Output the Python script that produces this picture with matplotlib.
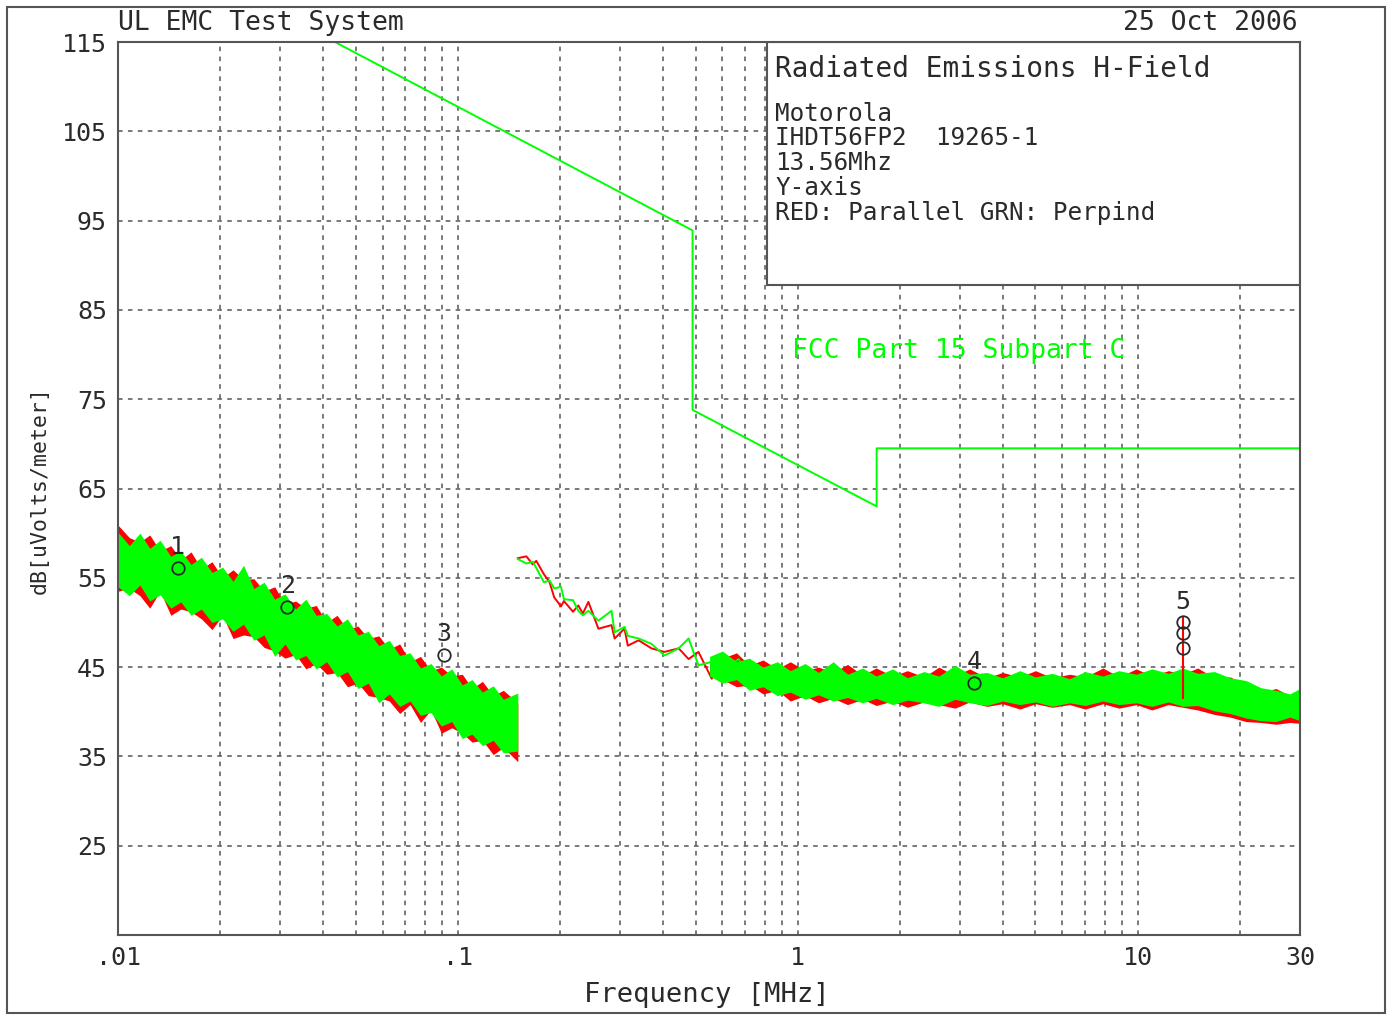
import numpy as np
import matplotlib.pyplot as plt
from matplotlib.patches import Rectangle

# FCC Part 15 Subpart C limit line (clipped at the top of the plot)
limit_f = [0.01, 0.49, 0.49, 1.705, 1.705, 30.0]
limit_db = [127.8, 93.9, 73.8, 63.0, 69.5, 69.5]

# band 1 (0.01 - 0.15 MHz), envelopes of the dense traces
seg1_f = [0.0100, 0.0108, 0.0116, 0.0124, 0.0133, 0.0143, 0.0153, 0.0164, 0.0176, 0.0189,
          0.0203, 0.0218, 0.0234, 0.0251, 0.0269, 0.0289, 0.0310, 0.0333, 0.0357, 0.0383,
          0.0411, 0.0441, 0.0473, 0.0508, 0.0545, 0.0585, 0.0628, 0.0674, 0.0723, 0.0776,
          0.0833, 0.0894, 0.0959, 0.103, 0.110, 0.118, 0.127, 0.136, 0.150]
seg1_grn_hi = [60.1, 58.6, 60.0, 58.3, 59.2, 57.4, 58.0, 56.5, 57.3, 55.6,
               56.2, 54.6, 56.4, 53.8, 54.5, 52.6, 53.2, 51.5, 52.6, 50.8,
               51.0, 49.6, 50.4, 48.6, 49.0, 47.4, 48.0, 46.3, 46.6, 44.9,
               45.4, 44.0, 44.8, 43.0, 43.6, 42.2, 42.9, 41.4, 42.1]
seg1_grn_lo = [54.0, 53.0, 54.2, 52.4, 53.1, 51.6, 52.3, 50.8, 51.5, 50.0,
               50.4, 49.0, 49.8, 48.0, 48.6, 46.2, 47.6, 45.8, 46.3, 44.8,
               45.6, 43.9, 44.5, 42.6, 43.2, 41.0, 42.0, 40.6, 41.2, 39.6,
               39.9, 38.4, 38.9, 37.0, 37.5, 36.2, 36.8, 35.4, 35.6]
seg1_red_hi = [60.9, 59.5, 59.0, 59.8, 58.0, 58.6, 57.0, 57.9, 56.0, 56.8,
               55.0, 55.9, 54.8, 54.9, 53.5, 54.0, 52.0, 52.4, 51.6, 51.9,
               50.0, 50.8, 49.2, 49.6, 48.2, 48.5, 47.0, 47.6, 45.6, 46.2,
               44.6, 45.0, 44.0, 44.2, 42.6, 43.4, 41.8, 42.4, 41.0]
seg1_red_lo = [53.5, 53.8, 53.0, 51.6, 53.5, 50.8, 51.5, 51.2, 50.4, 49.2,
               50.8, 48.2, 48.6, 48.4, 47.2, 46.8, 46.0, 46.4, 44.8, 45.4,
               44.2, 44.4, 42.8, 43.2, 41.8, 41.6, 41.2, 39.8, 40.8, 38.8,
               40.2, 37.6, 38.2, 37.6, 36.6, 36.8, 35.2, 36.0, 34.4]

# band 2 start (0.15 - 1.1 MHz), individual traces
seg2_f = [0.150, 0.159, 0.166, 0.170, 0.179, 0.186, 0.192, 0.201, 0.205, 0.218,
          0.226, 0.233, 0.242, 0.259, 0.283, 0.289, 0.309, 0.316, 0.340, 0.371,
          0.405, 0.446, 0.477, 0.510, 0.558, 0.609, 0.670, 0.698, 0.767, 0.821,
          0.879, 0.980, 1.100]
seg2_grn = [57.1, 56.6, 56.8, 56.1, 54.5, 54.7, 53.8, 54.0, 52.6, 52.5,
            51.3, 50.8, 51.3, 50.2, 51.3, 48.9, 49.5, 48.5, 48.2, 47.6,
            46.3, 47.1, 48.2, 45.2, 45.6, 44.8, 45.9, 44.4, 45.2, 43.5,
            44.8, 43.7, 43.3]
seg2_red = [57.2, 57.4, 56.5, 56.9, 55.4, 54.5, 52.8, 51.8, 52.4, 51.2,
            51.9, 51.0, 52.3, 49.3, 49.7, 48.2, 49.3, 47.4, 48.0, 47.1,
            46.7, 47.1, 45.9, 46.7, 43.7, 46.3, 44.8, 44.1, 43.5, 44.8,
            43.3, 42.6, 44.4]

# band 2 (0.55 - 30 MHz), envelopes
seg3_f = [0.55, 0.60, 0.66, 0.72, 0.79, 0.87, 0.95, 1.05, 1.15, 1.27,
          1.4, 1.55, 1.7, 1.9, 2.1, 2.35, 2.6, 2.9, 3.2, 3.6,
          4.0, 4.5, 5.0, 5.6, 6.3, 7.0, 7.9, 8.8, 9.9, 11.0,
          12.3, 13.56, 15.0, 16.8, 18.7, 20.8, 23.0, 25.5, 28.0, 30.0]
seg3_grn_hi = [46.2, 46.8, 45.6, 46.0, 45.0, 45.6, 44.6, 45.4, 44.4, 45.6,
               44.2, 44.9, 44.0, 44.8, 43.8, 44.5, 44.0, 45.2, 44.2, 44.4,
               43.8, 44.6, 43.9, 44.3, 43.7, 44.5, 44.0, 44.6, 44.2, 44.8,
               44.3, 44.9, 44.3, 44.5, 43.8, 43.5, 42.7, 42.4, 42.0, 42.6]
seg3_grn_lo = [44.0, 43.2, 43.6, 42.4, 42.8, 41.8, 42.2, 41.4, 41.9, 41.2,
               41.6, 41.0, 41.5, 40.8, 41.3, 41.0, 40.6, 41.4, 41.0, 40.7,
               41.2, 40.8, 41.1, 40.6, 41.0, 40.7, 41.2, 40.8, 41.0, 40.6,
               41.1, 40.6, 40.7, 40.1, 39.8, 39.3, 39.0, 38.9, 39.4, 39.0]
seg3_red_hi = [45.4, 46.0, 46.6, 45.2, 45.8, 44.8, 45.6, 44.6, 45.0, 44.4,
               45.3, 44.1, 44.9, 44.0, 44.6, 43.9, 45.0, 44.0, 44.8, 43.8,
               44.4, 43.9, 44.6, 43.8, 44.2, 43.9, 44.9, 43.9, 44.8, 44.0,
               44.6, 44.2, 44.9, 43.8, 43.9, 43.0, 42.2, 42.6, 41.8, 42.2]
seg3_red_lo = [44.4, 43.6, 42.8, 43.0, 42.0, 42.4, 41.2, 41.8, 41.0, 41.5,
               40.8, 41.4, 40.7, 41.2, 40.5, 41.1, 40.8, 40.4, 41.1, 40.6,
               40.9, 40.3, 40.9, 40.5, 40.8, 40.3, 40.9, 40.4, 40.8, 40.2,
               40.8, 40.5, 40.2, 39.7, 39.4, 38.9, 38.8, 38.6, 38.8, 38.7]

# carrier spike at 13.56 MHz
spike_f = 13.56
spike_db = [41.5, 50.5]

# markers
mark_f = [0.015, 0.0315, 0.091, 3.30, 13.56]
mark_db = [56.1, 51.7, 46.4, 43.2, 50.0]
mark_lbl = ['1', '2', '3', '4', '5']
extra_f = [13.56, 13.56]
extra_db = [48.8, 47.1]

yticks = [25, 35, 45, 55, 65, 75, 85, 95, 105, 115]
xticks = [0.01, 0.1, 1, 10, 30]
xtick_lbl = ['.01', '.1', '1', '10', '30']
grid_f = [0.02, 0.03, 0.04, 0.05, 0.06, 0.07, 0.08, 0.09, 0.1,
          0.2, 0.3, 0.4, 0.5, 0.6, 0.7, 0.8, 0.9, 1,
          2, 3, 4, 5, 6, 7, 8, 9, 10, 20]
grid_db = [25, 35, 45, 55, 65, 75, 85, 95, 105]

RED = '#ff0000'
GRN = '#00ff00'
TXT = '#2a2a2a'
FONT = 'DejaVu Sans Mono'

fig = plt.figure(figsize=(13.92, 10.15), dpi=100)
ax = fig.add_axes([118/1392, 80/1015, 1182/1392, 893/1015])
ax.set_xscale('log')
ax.set_xlim(0.01, 30)
ax.set_ylim(15, 115)

# dashed grid
for g in grid_f:
    ax.axvline(g, color='#555555', lw=1.1, ls=(0, (3, 3.5)), zorder=1)
for g in grid_db:
    ax.axhline(g, color='#555555', lw=1.1, ls=(0, (3, 3.5)), zorder=1)

# traces
ax.fill_between(seg1_f, seg1_red_lo, seg1_red_hi, color=RED, lw=0, zorder=2)
ax.fill_between(seg1_f, seg1_grn_lo, seg1_grn_hi, color=GRN, lw=0, zorder=2.1)
ax.plot(seg2_f, seg2_red, color=RED, lw=1.4, zorder=2)
ax.plot(seg2_f, seg2_grn, color=GRN, lw=1.4, zorder=2.1)
ax.fill_between(seg3_f, seg3_red_lo, seg3_red_hi, color=RED, lw=0, zorder=2)
ax.fill_between(seg3_f, seg3_grn_lo, seg3_grn_hi, color=GRN, lw=0, zorder=2.1)
ax.plot([spike_f, spike_f], spike_db, color=RED, lw=1.5, zorder=2.2)

# limit line
ax.plot(limit_f, limit_db, color=GRN, lw=1.4, zorder=3)
ax.text(0.570, 0.654, 'FCC Part 15 Subpart C', transform=ax.transAxes, color=GRN,
        fontsize=19, family=FONT, va='center', ha='left', zorder=3)

# markers
ax.plot(mark_f + extra_f, mark_db + extra_db, ls='none', marker='o', ms=9, mfc='none',
        mec=TXT, mew=1.3, zorder=5)
for f, d, l in zip(mark_f, mark_db, mark_lbl):
    ax.annotate(l, (f, d), xytext=(0, 15), textcoords='offset points', color=TXT,
                fontsize=18, family=FONT, ha='center', va='center', zorder=5)

# info box
ax.add_patch(Rectangle((0.549, 0.728), 0.451, 0.272, transform=ax.transAxes,
                       fc='white', ec='#555555', lw=1.5, zorder=4))
ax.text(0.556, 0.970, 'Radiated Emissions H-Field', transform=ax.transAxes, fontsize=20,
        family=FONT, color=TXT, va='center', zorder=5)
info = ['Motorola', 'IHDT56FP2  19265-1', '13.56Mhz', 'Y-axis', 'RED: Parallel GRN: Perpind']
info_y = [0.919, 0.893, 0.865, 0.837, 0.808]
for s, yy in zip(info, info_y):
    ax.text(0.556, yy, s, transform=ax.transAxes, fontsize=17.5, family=FONT,
            color=TXT, va='center', zorder=5)

ax.set_xticks(xticks)
ax.set_xticklabels(xtick_lbl)
ax.xaxis.set_minor_locator(plt.NullLocator())
ax.set_yticks(yticks)
ax.tick_params(length=0, labelsize=18, colors=TXT, pad=8)
for lab in ax.get_xticklabels() + ax.get_yticklabels():
    lab.set_family(FONT)
for sp in ax.spines.values():
    sp.set_color('#555555')
    sp.set_linewidth(1.5)
    sp.set_zorder(6)

fig.text(118/1392, 1 - 23/1015, 'UL EMC Test System', fontsize=19, family=FONT,
         color=TXT, ha='left', va='center')
fig.text(1298/1392, 1 - 23/1015, '25 Oct 2006', fontsize=19, family=FONT,
         color=TXT, ha='right', va='center')
fig.text(40/1392, 1 - 490/1015, 'dB[uVolts/meter]', fontsize=15.5, family=FONT,
         color=TXT, rotation=90, ha='center', va='center')
fig.text(707/1392, 1 - 995/1015, 'Frequency [MHz]', fontsize=19.5, family=FONT,
         color=TXT, ha='center', va='center')

# outer frame
fig.patches.append(Rectangle((7/1392, 2/1015), 1378/1392, 1006/1015, transform=fig.transFigure,
                             fill=False, ec='#555555', lw=1.5))

fig.savefig('out.png', dpi=100)
